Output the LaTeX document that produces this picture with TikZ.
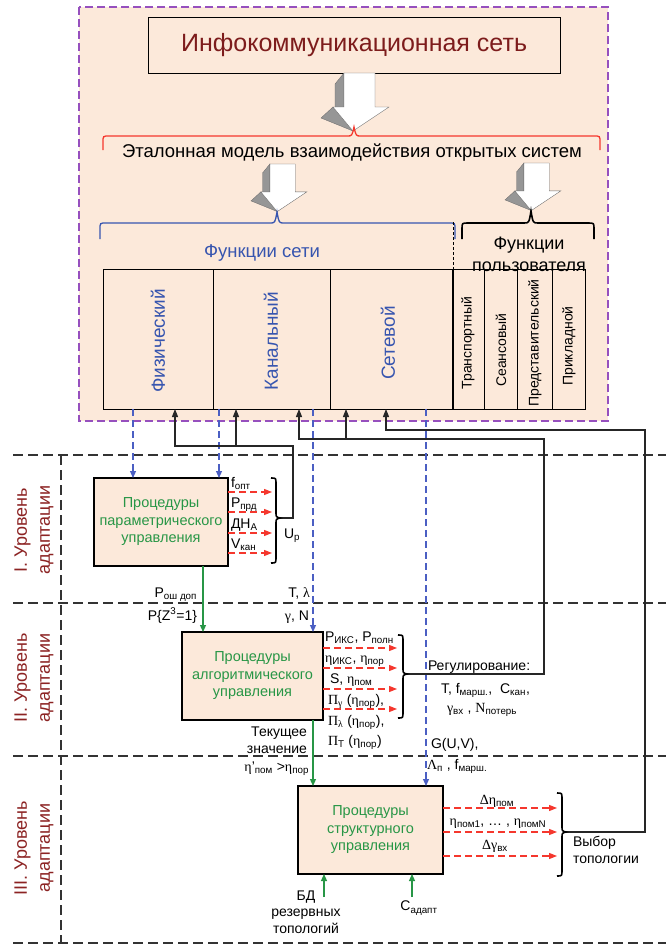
\documentclass[tikz,border=0pt]{standalone}
\usepackage{fontspec}
\setmainfont{Liberation Sans}
\newfontfamily\gr{Liberation Serif}
\usetikzlibrary{arrows.meta}
\definecolor{peach}{RGB}{252,233,218}
\definecolor{titlered}{RGB}{125,28,28}
\definecolor{lvlred}{RGB}{140,35,35}
\definecolor{fblue}{RGB}{55,85,175}
\definecolor{dblue}{RGB}{75,95,195}
\definecolor{pgreen}{RGB}{40,150,70}
\definecolor{purp}{RGB}{150,80,190}
\definecolor{arrred}{RGB}{245,55,45}
\definecolor{agray}{RGB}{150,150,150}
\newcommand\sub[1]{\textsubscript{#1}}
\newcommand\geta{{\gr η}}
\newcommand\ggam{{\gr γ}}
\newcommand\glam{{\gr λ}}
\newcommand\gLam{{\gr Λ}}
\newcommand\gDel{{\gr Δ}}
\newcommand\gPi{{\gr Π}}
% horizontal brace: style, xl, xr, y, xtip, ytip, yend
\newcommand\hbrace[7]{\draw[#1] (#2,#7) -- (#2,#4+6) .. controls (#2,#4) .. (#2+6,#4) -- (#5-7,#4) .. controls (#5-2,#4) .. (#5,#6) .. controls (#5+2,#4) .. (#5+7,#4) -- (#3-6,#4) .. controls (#3,#4) .. (#3,#4+6) -- (#3,#7);}
% vertical brace: style, x, ytop, ybot, ytip
\newcommand\vbrace[5]{\draw[#1] (#2,#3) .. controls (#2+5,#3) .. (#2+5,#3+6) -- (#2+5,#5-6) .. controls (#2+5,#5-1) .. (#2+9,#5) .. controls (#2+5,#5+1) .. (#2+5,#5+6) -- (#2+5,#4-6) .. controls (#2+5,#4) .. (#2,#4);}
% 3D arrow: cx, ytop, scale
\newcommand\threedarrow[3]{%
\begin{scope}[shift={(#1,#2)},scale=#3]
\filldraw[fill=agray,draw=agray!70!black,line width=0.3pt] (-25,11) -- (-16,0) -- (-16,36) -- (-25,36) -- cycle;
\filldraw[fill=agray,draw=agray!70!black,line width=0.3pt] (-39,45) -- (-27,34) -- (-7,58) -- cycle;
\filldraw[fill=white,draw=agray!70!black,line width=0.3pt] (-16,0) -- (15,0) -- (15,34) -- (29,34) -- (-7,58) -- (-27,34) -- (-16,34) -- cycle;
\end{scope}}

\begin{document}
\begin{tikzpicture}[x=1pt,y=-1pt,
 every node/.style={inner sep=0pt,outer sep=0pt},
 lab/.style={font=\fontsize{14}{16.5}\selectfont},
 procbox/.style={draw,line width=1.1pt,fill=peach,text=pgreen,align=center,font=\fontsize{14.5}{17.5}\selectfont},
 netcol/.style={rotate=90,text=fblue,font=\fontsize{19}{22}\selectfont},
 usrcol/.style={rotate=90,font=\fontsize{14}{16}\selectfont},
 lvltxt/.style={rotate=90,text=lvlred,align=center,font=\fontsize{18}{23}\selectfont},
 bdash/.style={draw=dblue,line width=1.1pt,dash pattern=on 7pt off 4pt,-{Triangle[length=7pt,width=6pt]}},
 blkarr/.style={line width=1.1pt,draw=black!85,-{Triangle[length=8pt,width=6pt]}},
 garr/.style={draw=pgreen,line width=1.2pt,-{Triangle[length=7pt,width=6pt]}},
 rarr/.style={draw=arrred,line width=1.1pt,dash pattern=on 7pt off 4pt,-{Triangle[length=8pt,width=6pt]}},
 lvlline/.style={draw=black!80,line width=1.2pt,dash pattern=on 10pt off 5pt},
 colline/.style={draw=black,line width=0.9pt}
]
\fill[white] (0,0) rectangle (666,946);
\useasboundingbox (0,0) rectangle (666,946);

% outer purple region
\draw[purp,line width=1.2pt,dash pattern=on 8pt off 4pt,fill=peach] (79,7) rectangle (608,421);

% title
\node[draw,line width=1pt,fill=peach,minimum width=412pt,minimum height=56pt,text=titlered,font=\fontsize{25}{30}\selectfont] (title) at (354,45) {Инфокоммуникационная сеть};

\threedarrow{360}{73}{1}
\hbrace{arrred,line width=1.3pt}{103}{600}{136}{354}{127}{150}
\node[font=\fontsize{18.5}{22}\selectfont] (osi) at (352,153) {Эталонная модель взаимодействия открытых систем};

\threedarrow{283}{164}{0.82}
\threedarrow{537}{163}{0.82}
\hbrace{fblue,line width=1.3pt}{100}{455}{223}{277}{212}{239}
\hbrace{black,line width=1.6pt}{462}{594}{223}{531}{211}{239}
\draw[black,line width=0.8pt,dash pattern=on 3pt off 2pt] (453,222) -- (453,269);

\node[text=fblue,font=\fontsize{18.5}{22}\selectfont] (netf) at (262,253) {Функции сети};
\node[align=center,font=\fontsize{18}{22}\selectfont] (usrf) at (529,254) {Функции\\пользователя};

% columns
\draw[colline] (103,269) rectangle (585,409);
\foreach \xx in {213,330,484,517,552} \draw[colline] (\xx,269) -- (\xx,409);
\draw[black,line width=1.7pt] (453,269) -- (453,409);
\node[netcol] (c1) at (158,341) {Физический};
\node[netcol] (c2) at (271,341) {Канальный};
\node[netcol] (c3) at (388,343) {Сетевой};
\node[usrcol] (c4) at (468,343) {Транспортный};
\node[usrcol] (c5) at (501,350) {Сеансовый};
\node[usrcol] (c6) at (535,343) {Представительский};
\node[usrcol] (c7) at (569,346) {Прикладной};

% level separators
\draw[lvlline] (13,455) -- (666,455);
\draw[lvlline] (13,603) -- (666,603);
\draw[lvlline] (13,756) -- (666,756);
\draw[lvlline] (13,943) -- (666,943);
\draw[lvlline] (61,455) -- (61,943);
\node[lvltxt] (l1) at (34,530) {I. Уровень\\адаптации};
\node[lvltxt] (l2) at (34,678) {II. Уровень\\адаптации};
\node[lvltxt] (l3) at (34,848) {III. Уровень\\адаптации};

% procedure boxes
\node[procbox,minimum width=134pt,minimum height=88pt] (p1) at (161,522) {Процедуры\\параметрического\\управления};
\node[procbox,minimum width=141pt,minimum height=88pt] (p2) at (252.5,676) {Процедуры\\алгоритмического\\управления};
\node[procbox,minimum width=145pt,minimum height=88pt] (p3) at (370.5,830) {Процедуры\\структурного\\управления};

% column anchor points
\coordinate (d1) at (133,409);
\coordinate (d2) at (219,409);
\coordinate (d3) at (313,409);
\coordinate (d4) at (426,409);
\coordinate (u1) at (175,409);
\coordinate (u2) at (236,409);
\coordinate (u3) at (299,409);
\coordinate (u4) at (346,409);
\coordinate (u5) at (386,409);
\coordinate (jA) at (293,446);
\coordinate (jB) at (544,439);
\coordinate (jC) at (645,430);
\coordinate (bt1) at (280,518);
\coordinate (bt2) at (407,674);
\coordinate (bt3) at (566,832);

% blue dashed feeds
\draw[bdash] (d1) -- (d1 |- p1.north);
\draw[bdash] (d2) -- (d2 |- p1.north);
\draw[bdash] (d3) -- (d3 |- p2.north);
\draw[bdash] (d4) -- (d4 |- p3.north);

% black feedback
\draw[blkarr] (bt1) -| (jA) -| (u1);
\draw[blkarr] (u2 |- jA) -- (u2);
\draw[blkarr] (bt2) -| (jB) -| (u3);
\draw[blkarr] (u4 |- jB) -- (u4);
\draw[blkarr] (bt3) -| (jC) -| (u5);

% green arrows
\coordinate (g1) at (203,0);
\coordinate (g2) at (313,0);
\coordinate (g3) at (324,897);
\coordinate (g4) at (412,897);
\draw[garr] (g1 |- p1.south) -- (g1 |- p2.north);
\draw[garr] (g2 |- p2.south) -- (g2 |- p3.north);
\draw[garr] (g3) -- (g3 |- p3.south);
\draw[garr] (g4) -- (g4 |- p3.south);

% red outputs
\foreach \d in {14,34,55,75} \draw[rarr] ([yshift=-\d pt]p1.north east) -- ++(44,0);
\foreach \d in {16,36,57,77} \draw[rarr] ([yshift=-\d pt]p2.north east) -- ++(74,0);
\foreach \d in {22,46,70} \draw[rarr] ([yshift=-\d pt]p3.north east) -- ++(114,0);

% braces
\vbrace{black,line width=1.6pt}{271}{478}{563}{518}
\vbrace{black,line width=1.6pt}{398}{635}{718}{674}
\vbrace{black,line width=1.6pt}{557}{793}{876}{832}

% level I labels
\node[lab,anchor=base west] (t1) at (231,487) {f\sub{опт}};
\node[lab,anchor=base west] (t2) at (231,507) {P\sub{прд}};
\node[lab,anchor=base west] (t3) at (231,528) {ДН\sub{А}};
\node[lab,anchor=base west] (t4) at (231,548) {V\sub{кан}};
\node[lab,anchor=west] (up) at (284,536) {U\sub{p}};
\node[lab,anchor=base east] (t5) at (197,597) {P\sub{ош доп}};
\node[lab,anchor=base east] (t6) at (310,597) {T, \glam};
\node[lab,anchor=base east] (t7) at (197,620) {P\{Z\textsuperscript{3}=1\}};
\node[lab,anchor=base east] (t8) at (309,620) {\ggam, N};

% level II labels
\node[lab,anchor=base west] (s1) at (325,641) {P\sub{ИКС}, P\sub{полн}};
\node[lab,anchor=base west] (s2) at (325,662) {\geta\sub{ИКС}, \geta\sub{пор}};
\node[lab,anchor=base west] (s3) at (330,683) {S, \geta\sub{пом}};
\node[lab,anchor=base west] (s4) at (328,704) {\gPi\sub{\ggam} (\geta\sub{пор}),};
\node[lab,anchor=base west] (s5) at (328,725) {\gPi\sub{\glam} (\geta\sub{пор}),};
\node[lab,anchor=base west] (s6) at (328,745) {\gPi\sub{T} (\geta\sub{пор})};
\node[lab,anchor=base west] (r1) at (428,670) {Регулирование:};
\node[lab,anchor=base west] (r2) at (441,693) {T, f\sub{марш.},\ \ C\sub{кан},};
\node[lab,anchor=base west] (r3) at (447,712) {\ggam\sub{вх} , {\gr N}\sub{потерь}};
\node[lab,anchor=east,align=right] (s7) at (307,740) {Текущее\\значение};
\node[lab,anchor=base east] (s8) at (309,771) {\geta'\sub{пом} >\geta\sub{пор}};
\node[lab,anchor=base west] (s9) at (431,748) {G(U,V),};
\node[lab,anchor=base west] (s10) at (427,769) {\gLam\sub{п} , f\sub{марш.}};

% level III labels
\node[lab,anchor=base] (v1) at (497,804) {\gDel\geta\sub{пом}};
\node[lab,anchor=base] (v2) at (498,825) {\geta\sub{пом1}, … , \geta\sub{помN}};
\node[lab,anchor=base] (v3) at (495,849) {\gDel\ggam\sub{вх}};
\node[lab,anchor=west,align=left] (v4) at (573,850) {Выбор\\топологии};
\node[lab,align=center] (v5) at (306,912) {БД\\резервных\\топологий};
\node[lab] (v6) at (419,908) {C\sub{адапт}};
\end{tikzpicture}
\end{document}
